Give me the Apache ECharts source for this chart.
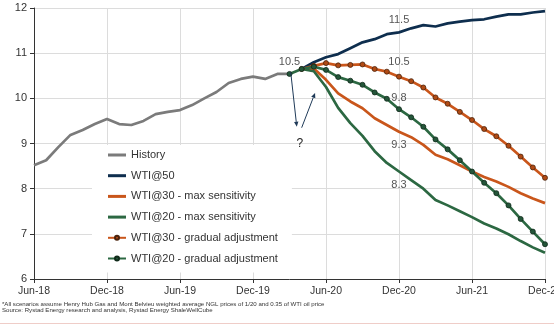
<!DOCTYPE html>
<html>
<head>
<meta charset="utf-8">
<script src="https://cdn.jsdelivr.net/npm/echarts@6/dist/echarts.min.js"></script>
<style>
html,body{margin:0;padding:0;background:#fff;}
#chart{width:554px;height:325px;}
</style>
</head>
<body>
<div id="chart"></div>
<script>
const categories = ['Jun-18','Jul-18','Aug-18','Sep-18','Oct-18','Nov-18','Dec-18','Jan-19','Feb-19','Mar-19','Apr-19','May-19',
  'Jun-19','Jul-19','Aug-19','Sep-19','Oct-19','Nov-19','Dec-19','Jan-20','Feb-20','Mar-20','Apr-20','May-20',
  'Jun-20','Jul-20','Aug-20','Sep-20','Oct-20','Nov-20','Dec-20','Jan-21','Feb-21','Mar-21','Apr-21','May-21',
  'Jun-21','Jul-21','Aug-21','Sep-21','Oct-21','Nov-21','Dec-21'];

// History: Jun-18 .. Mar-20
const history = [8.52,8.63,8.92,9.19,9.30,9.43,9.54,9.43,9.41,9.50,9.65,9.70,9.74,9.85,10.00,10.14,10.34,10.43,10.48,10.43,10.54,10.54];
// Scenarios: Apr-20 .. Dec-21
const wti50 = [10.65,10.80,10.91,10.98,11.11,11.24,11.31,11.42,11.46,11.55,11.62,11.59,11.66,11.70,11.73,11.75,11.81,11.86,11.86,11.90,11.93];
const wti30Max = [10.65,10.66,10.41,10.11,9.93,9.78,9.56,9.41,9.26,9.14,8.97,8.75,8.65,8.52,8.38,8.26,8.16,8.04,7.90,7.78,7.68];
const wti20Max = [10.65,10.60,10.25,9.79,9.45,9.17,8.83,8.57,8.38,8.19,8.00,7.75,7.63,7.50,7.37,7.23,7.12,6.99,6.84,6.70,6.58];
const wti30Grad = [10.65,10.72,10.78,10.73,10.74,10.75,10.65,10.59,10.48,10.38,10.24,10.02,9.88,9.70,9.52,9.32,9.16,8.95,8.71,8.47,8.24];
// Mar-20 .. Dec-21
const wti20Grad = [10.54,10.65,10.70,10.63,10.47,10.39,10.30,10.13,9.99,9.76,9.58,9.37,9.09,8.87,8.63,8.38,8.13,7.90,7.63,7.33,7.05,6.77];

const seriesNames = ['History','WTI@50','WTI@30 - max sensitivity','WTI@20 - max sensitivity','WTI@30 - gradual adjustment','WTI@20 - gradual adjustment'];
const yTicks = {min: 6, max: 12, interval: 1};

// annotations: [text, category index, value]
const annotations = [
  ['11.5', 30, 11.73],
  ['10.5', 21, 10.80],
  ['10.5', 30, 10.80],
  ['9.8', 30, 10.00],
  ['9.3', 30, 8.97],
  ['8.3', 30, 8.08],
  ['?', 21.85, 8.99]
];
// arrows: [fromIdx, fromVal, toIdx, toVal]
const arrows = [
  [21.1, 10.58, 21.6, 9.37],
  [22.0, 9.35, 23.1, 10.12]
];

const footnote1 = '*All scenarios assume Henry Hub Gas and Mont Belvieu weighted average NGL prices of 1/20 and 0.35 of WTI oil price';
const footnote2 = 'Source: Rystad Energy research and analysis, Rystad Energy ShaleWellCube';

function pad(arr, startIdx) {
  const out = new Array(categories.length).fill(null);
  arr.forEach((v, i) => { out[startIdx + i] = v; });
  return out;
}

const FONT = 'Liberation Sans, Arial, sans-serif';
const colors = {
  hist: '#7b7b7b', navy: '#0e2e4e', orange: '#c9561b', green: '#2c6842'
};

function lineSeries(name, data, color, dots, dotColor, dotBorder) {
  return {
    name: name, type: 'line', data: data,
    symbol: dots ? 'circle' : 'none',
    symbolSize: 5,
    showSymbol: !!dots,
    connectNulls: false,
    lineStyle: {color: color, width: 2.7},
    itemStyle: dots ? {color: dotColor, borderColor: dotBorder, borderWidth: 0.8} : {color: color},
    emphasis: {disabled: true},
    z: 3
  };
}

const LINE_ICON = 'path://M0,0L18,0L18,3L0,3Z';
const legendData = seriesNames.map((n, i) => i < 4 ? {name: n, icon: LINE_ICON} : {name: n});

const chart = echarts.init(document.getElementById('chart'), null, {renderer: 'canvas'});
chart.setOption({
  animation: false,
  grid: {left: 34, right: 9, top: 8, bottom: 46, containLabel: false, outerBoundsMode: 'none'},
  xAxis: {
    type: 'category', data: categories, boundaryGap: false,
    axisLine: {lineStyle: {color: '#333', width: 1}},
    axisTick: {show: true, interval: 5, length: 4, lineStyle: {color: '#333'}},
    axisLabel: {interval: 5, color: '#333', fontSize: 10.5, fontFamily: FONT, margin: 7, hideOverlap: false},
    splitLine: {show: true, interval: 5, lineStyle: {color: '#dcdcdc', width: 1}}
  },
  yAxis: {
    type: 'value', min: yTicks.min, max: yTicks.max, interval: yTicks.interval,
    axisLine: {show: true, lineStyle: {color: '#333', width: 1}},
    axisTick: {show: true, length: 4, lineStyle: {color: '#333'}},
    axisLabel: {color: '#333', fontSize: 11, fontFamily: FONT, margin: 7},
    splitLine: {show: true, lineStyle: {color: '#dcdcdc', width: 1}}
  },
  legend: {
    orient: 'vertical', left: 92, top: 145,
    padding: [4, 14, 8, 15],
    backgroundColor: '#fff',
    itemGap: 8.7, itemWidth: 18, itemHeight: 5,
    textStyle: {color: '#333', fontSize: 11, fontFamily: FONT, lineHeight: 12},
    data: legendData,
    z: 10
  },
  series: [
    lineSeries(seriesNames[0], pad(history, 0), colors.hist, false),
    lineSeries(seriesNames[1], pad(wti50, 22), colors.navy, false),
    lineSeries(seriesNames[2], pad(wti30Max, 22), colors.orange, false),
    lineSeries(seriesNames[3], pad(wti20Max, 22), colors.green, false),
    lineSeries(seriesNames[4], pad(wti30Grad, 22), colors.orange, true, '#b04a14', '#4a230c'),
    lineSeries(seriesNames[5], pad(wti20Grad, 21), colors.green, true, '#24563a', '#102a1a')
  ]
});

function toPx(idx, val) {
  const i0 = Math.floor(idx), f = idx - i0;
  const p0 = chart.convertToPixel({gridIndex: 0}, [i0, val]);
  const p1 = chart.convertToPixel({gridIndex: 0}, [i0 + 1, val]);
  return [p0[0] + (p1[0] - p0[0]) * f, p0[1]];
}

const graphics = [];
annotations.forEach(a => {
  const p = toPx(a[1], a[2]);
  graphics.push({
    type: 'text', x: p[0], y: p[1], z: 20,
    style: {text: a[0], fill: a[0] === '?' ? '#222' : '#555', font: (a[0] === '?' ? '12px ' : '11px ') + FONT,
      textAlign: 'center', textVerticalAlign: 'middle'}
  });
});
arrows.forEach(a => {
  const s = toPx(a[0], a[1]), e = toPx(a[2], a[3]);
  const dx = e[0] - s[0], dy = e[1] - s[1];
  const len = Math.sqrt(dx * dx + dy * dy);
  const ux = dx / len, uy = dy / len;
  const hl = 5, hw = 2.2;
  const bx = e[0] - ux * hl, by = e[1] - uy * hl;
  graphics.push({type: 'line', z: 20, shape: {x1: s[0], y1: s[1], x2: bx, y2: by}, style: {stroke: '#1f3a58', lineWidth: 1}});
  graphics.push({type: 'polygon', z: 20, shape: {points: [[e[0], e[1]], [bx - uy * hw, by + ux * hw], [bx + uy * hw, by - ux * hw]]}, style: {fill: '#1f3a58'}});
});
graphics.push({type: 'text', x: 2, y: 304, z: 20, style: {text: footnote1, fill: '#333', font: '6.1px ' + FONT, textVerticalAlign: 'middle'}});
graphics.push({type: 'text', x: 2, y: 310, z: 20, style: {text: footnote2, fill: '#333', font: '6.1px ' + FONT, textVerticalAlign: 'middle'}});
graphics.push({type: 'rect', z: 1, shape: {x: 0, y: 323, width: 554, height: 1}, style: {fill: '#efcdc8'}});

chart.setOption({graphic: graphics});
</script>
</body>
</html>
